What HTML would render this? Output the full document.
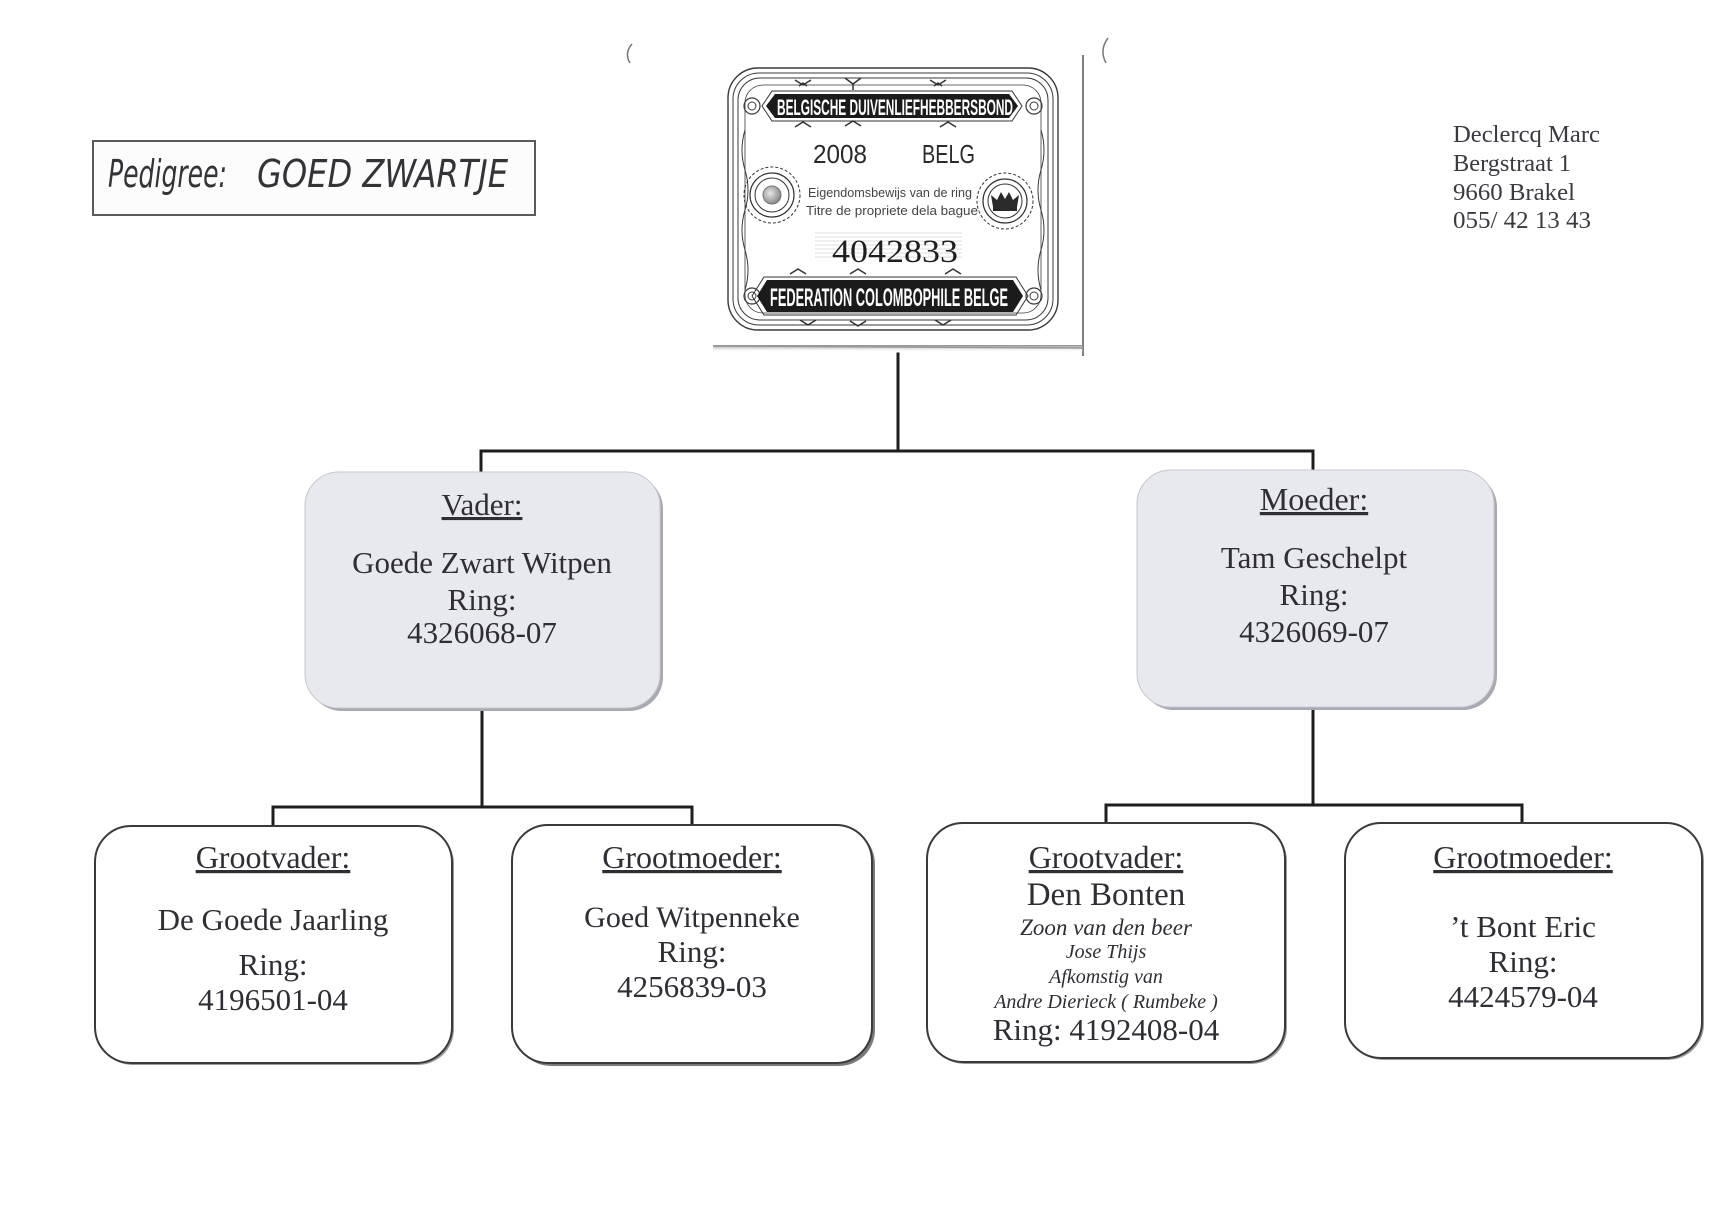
<!DOCTYPE html>
<html>
<head>
<meta charset="utf-8">
<style>
  html,body{margin:0;padding:0;background:#ffffff;}
  svg{display:block;}
</style>
</head>
<body>
<svg width="1729" height="1224" viewBox="0 0 1729 1224" xmlns="http://www.w3.org/2000/svg" font-family="'Liberation Serif', serif">
  <defs>
    <linearGradient id="btm" x1="0" y1="0" x2="0" y2="1">
      <stop offset="0" stop-color="#888"/>
      <stop offset="1" stop-color="#fff" stop-opacity="0"/>
    </linearGradient>
    <radialGradient id="med" cx="0.4" cy="0.4" r="0.6">
      <stop offset="0" stop-color="#e8e8e8"/>
      <stop offset="1" stop-color="#8a8a8a"/>
    </radialGradient>
  </defs>

  <!-- stray marks -->
  <path d="M632,44 Q624,53 630,63" stroke="#777" stroke-width="1.5" fill="none"/>
  <path d="M1108,38 Q1099,50 1106,63" stroke="#777" stroke-width="1.5" fill="none"/>

  <!-- Pedigree title box -->
  <rect x="93" y="141" width="442" height="74" fill="#fcfcfc" stroke="#5a5a5a" stroke-width="2"/>
  <text x="108" y="187" font-family="'Liberation Sans Narrow','DejaVu Sans Condensed','Liberation Sans',sans-serif" font-style="italic" font-size="38" fill="#333338" textLength="119" lengthAdjust="spacingAndGlyphs">Pedigree:</text>
  <text x="257" y="187" font-family="'Liberation Sans Narrow','DejaVu Sans Condensed','Liberation Sans',sans-serif" font-style="italic" font-size="38" fill="#333338" textLength="251" lengthAdjust="spacingAndGlyphs">GOED ZWARTJE</text>

  <!-- Address -->
  <g font-size="24" fill="#3a3a42">
    <text x="1453" y="142" textLength="147" lengthAdjust="spacingAndGlyphs">Declercq Marc</text>
    <text x="1453" y="171" textLength="118" lengthAdjust="spacingAndGlyphs">Bergstraat 1</text>
    <text x="1453" y="200" textLength="122" lengthAdjust="spacingAndGlyphs">9660 Brakel</text>
    <text x="1453" y="228" textLength="138" lengthAdjust="spacingAndGlyphs">055/ 42 13 43</text>
  </g>

  <!-- Ring certificate card -->
  <g>
    <!-- paper edges -->
    <line x1="1083" y1="55" x2="1083" y2="356" stroke="#555" stroke-width="1.5"/>
    <rect x="713" y="345" width="370" height="7" fill="url(#btm)"/>
    <line x1="713" y1="346" x2="1083" y2="348" stroke="#999" stroke-width="1.5"/>

    <!-- frame -->
    <g fill="none" stroke="#3a3a3a">
      <rect x="728" y="68" width="330" height="262" rx="30" stroke-width="1.4"/>
      <rect x="733" y="73" width="320" height="252" rx="26" stroke-width="1"/>
      <rect x="738" y="78" width="310" height="242" rx="22" stroke-width="1"/>
      <rect x="745" y="85" width="296" height="228" rx="18" stroke-width="0.8"/>
      <path d="M745,130 q-6,20 0,40 q6,20 0,40 q-6,20 0,40 q6,20 0,40" stroke-width="1"/>
      <path d="M1041,130 q6,20 0,40 q-6,20 0,40 q6,20 0,40 q-6,20 0,40" stroke-width="1"/>
      <circle cx="752" cy="106" r="8" stroke-width="1.2"/><circle cx="752" cy="106" r="4" stroke-width="1"/>
      <circle cx="1034" cy="106" r="8" stroke-width="1.2"/><circle cx="1034" cy="106" r="4" stroke-width="1"/>
      <circle cx="752" cy="296" r="8" stroke-width="1.2"/><circle cx="752" cy="296" r="4" stroke-width="1"/>
      <circle cx="1034" cy="296" r="8" stroke-width="1.2"/><circle cx="1034" cy="296" r="4" stroke-width="1"/>
    </g>

    <!-- sprigs -->
    <g stroke="#333" stroke-width="1.5" fill="none">
      <path d="M795,80 l8,5 l8,-5 M799,86 l4,-3 l4,3"/>
      <path d="M845,78 l8,6 l8,-6 M853,84 v6"/>
      <path d="M930,80 l8,5 l8,-5 M934,86 l4,-3 l4,3"/>
      <path d="M795,127 l8,-5 l8,5"/>
      <path d="M845,126 l8,-5 l8,5"/>
      <path d="M940,127 l8,-5 l8,5"/>
      <path d="M790,274 l8,-5 l8,5"/>
      <path d="M850,274 l8,-5 l8,5"/>
      <path d="M945,274 l8,-5 l8,5"/>
      <path d="M800,320 l8,5 l8,-5"/>
      <path d="M850,321 l8,5 l8,-5"/>
      <path d="M935,320 l8,5 l8,-5"/>
    </g>

    <!-- top banner -->
    <path d="M762,106 L772,91 L1012,91 L1022,106 L1012,121 L772,121 Z" fill="none" stroke="#333" stroke-width="1"/>
    <path d="M766,106 L775,94 L1009,94 L1018,106 L1009,118 L775,118 Z" fill="#1b1b1b"/>
    <text x="777" y="115" font-family="'Liberation Sans Narrow','Liberation Sans',sans-serif" font-weight="bold" font-size="22" fill="#ffffff" textLength="236" lengthAdjust="spacingAndGlyphs">BELGISCHE DUIVENLIEFHEBBERSBOND</text>

    <!-- 2008 BELG -->
    <text x="813" y="163" font-family="'Liberation Sans',sans-serif" font-size="26" fill="#2a2a2a" textLength="54" lengthAdjust="spacingAndGlyphs">2008</text>
    <text x="922" y="163" font-family="'Liberation Sans',sans-serif" font-size="26" fill="#2a2a2a" textLength="53" lengthAdjust="spacingAndGlyphs">BELG</text>

    <!-- medallions -->
    <g fill="none" stroke="#333">
      <circle cx="772" cy="195" r="28" stroke-width="1" stroke-dasharray="3 2"/>
      <circle cx="772" cy="195" r="22" stroke-width="1.2"/>
      <circle cx="772" cy="195" r="17" stroke-width="1"/>
      <circle cx="1005" cy="201" r="28" stroke-width="1" stroke-dasharray="3 2"/>
      <circle cx="1005" cy="201" r="22" stroke-width="1.2"/>
      <circle cx="1005" cy="201" r="17" stroke-width="1"/>
    </g>
    <circle cx="772" cy="195" r="9" fill="url(#med)" stroke="#777" stroke-width="1"/>
    <path d="M993,207 L991,195 L997,200 L1001,192 L1005,199 L1009,192 L1013,200 L1019,195 L1017,207 Z" fill="#2a2a2a"/>
    <rect x="993" y="207" width="24" height="4" fill="#2a2a2a"/>

    <!-- small text -->
    <text x="808" y="197" font-family="'Liberation Sans',sans-serif" font-size="13" fill="#444" textLength="164" lengthAdjust="spacingAndGlyphs">Eigendomsbewijs van de ring</text>
    <text x="806" y="215" font-family="'Liberation Sans',sans-serif" font-size="13" fill="#444" textLength="172" lengthAdjust="spacingAndGlyphs">Titre de propriete dela bague</text>

    <!-- lined background for number -->
    <g stroke="#d2d2d2" stroke-width="0.8">
      <line x1="815" y1="233" x2="962" y2="233"/>
      <line x1="815" y1="237" x2="962" y2="237"/>
      <line x1="815" y1="241" x2="962" y2="241"/>
      <line x1="815" y1="245" x2="962" y2="245"/>
      <line x1="815" y1="249" x2="962" y2="249"/>
      <line x1="815" y1="253" x2="962" y2="253"/>
      <line x1="815" y1="257" x2="962" y2="257"/>
    </g>
    <text x="832" y="262" font-size="33" fill="#1e1e1e" textLength="126" lengthAdjust="spacingAndGlyphs">4042833</text>

    <!-- bottom banner -->
    <path d="M752,296 L764,277 L1016,277 L1028,296 L1016,315 L764,315 Z" fill="none" stroke="#333" stroke-width="1"/>
    <path d="M757,296 L767,280 L1013,280 L1023,296 L1013,312 L767,312 Z" fill="#1b1b1b"/>
    <text x="770" y="306" font-family="'Liberation Sans Narrow','Liberation Sans',sans-serif" font-weight="bold" font-size="25" fill="#ffffff" textLength="238" lengthAdjust="spacingAndGlyphs">FEDERATION COLOMBOPHILE BELGE</text>
  </g>

  <!-- connectors -->
  <g stroke="#1e1e1e" stroke-width="3" fill="none" stroke-linecap="square">
    <path d="M898,354 V451"/>
    <path d="M481,472 V451 H1313 V470"/>
    <path d="M482,708 V807"/>
    <path d="M273,826 V807 H692 V825"/>
    <path d="M1313,707 V805"/>
    <path d="M1106,823 V805 H1522 V823"/>
  </g>

  <!-- parent boxes -->
  <rect x="308" y="475" width="355" height="236" rx="34" fill="#a9a9b2"/>
  <rect x="305" y="472" width="355" height="236" rx="34" fill="#e8e8ef" stroke="#c6c6ce" stroke-width="1"/>
  <rect x="1140" y="473" width="357" height="237" rx="34" fill="#a9a9b2"/>
  <rect x="1137" y="470" width="357" height="237" rx="34" fill="#e8e8ef" stroke="#c6c6ce" stroke-width="1"/>

  <!-- child boxes -->
  <g fill="#ffffff" stroke="#3a3a3a" stroke-width="2">
    <rect x="97" y="828" width="357" height="237" rx="36" fill="#9a9a9a" stroke="none"/>
    <rect x="95" y="826" width="357" height="237" rx="36"/>
    <rect x="515" y="828" width="360" height="238" rx="36" fill="#7a7a7a" stroke="none"/>
    <rect x="512" y="825" width="360" height="238" rx="36"/>
    <rect x="929" y="825" width="358" height="239" rx="36" fill="#9a9a9a" stroke="none"/>
    <rect x="927" y="823" width="358" height="239" rx="36"/>
    <rect x="1347" y="825" width="357" height="235" rx="36" fill="#9a9a9a" stroke="none"/>
    <rect x="1345" y="823" width="357" height="235" rx="36"/>
  </g>

  <!-- node text -->
  <g fill="#2e2e34" text-anchor="middle">
    <text x="482" y="515" font-size="31" style="text-decoration:underline">Vader:</text>
    <text x="482" y="573" font-size="31">Goede Zwart Witpen</text>
    <text x="482" y="610" font-size="31">Ring:</text>
    <text x="482" y="643" font-size="31">4326068-07</text>

    <text x="1314" y="510" font-size="32" style="text-decoration:underline">Moeder:</text>
    <text x="1314" y="568" font-size="31">Tam Geschelpt</text>
    <text x="1314" y="605" font-size="31">Ring:</text>
    <text x="1314" y="642" font-size="31">4326069-07</text>

    <text x="273" y="868" font-size="32" style="text-decoration:underline">Grootvader:</text>
    <text x="273" y="930" font-size="31">De Goede Jaarling</text>
    <text x="273" y="975" font-size="31">Ring:</text>
    <text x="273" y="1010" font-size="31">4196501-04</text>

    <text x="692" y="868" font-size="32" style="text-decoration:underline">Grootmoeder:</text>
    <text x="692" y="927" font-size="30">Goed Witpenneke</text>
    <text x="692" y="962" font-size="31">Ring:</text>
    <text x="692" y="997" font-size="31">4256839-03</text>

    <text x="1106" y="868" font-size="32" style="text-decoration:underline">Grootvader:</text>
    <text x="1106" y="905" font-size="33">Den Bonten</text>
    <text x="1106" y="935" font-size="23" font-style="italic">Zoon van den beer</text>
    <text x="1106" y="958" font-size="20" font-style="italic">Jose Thijs</text>
    <text x="1106" y="983" font-size="20" font-style="italic">Afkomstig van</text>
    <text x="1106" y="1008" font-size="20" font-style="italic">Andre Dierieck ( Rumbeke )</text>
    <text x="1106" y="1040" font-size="31">Ring: 4192408-04</text>

    <text x="1523" y="868" font-size="32" style="text-decoration:underline">Grootmoeder:</text>
    <text x="1523" y="937" font-size="31">’t Bont Eric</text>
    <text x="1523" y="972" font-size="31">Ring:</text>
    <text x="1523" y="1007" font-size="31">4424579-04</text>
  </g>
</svg>
</body>
</html>
